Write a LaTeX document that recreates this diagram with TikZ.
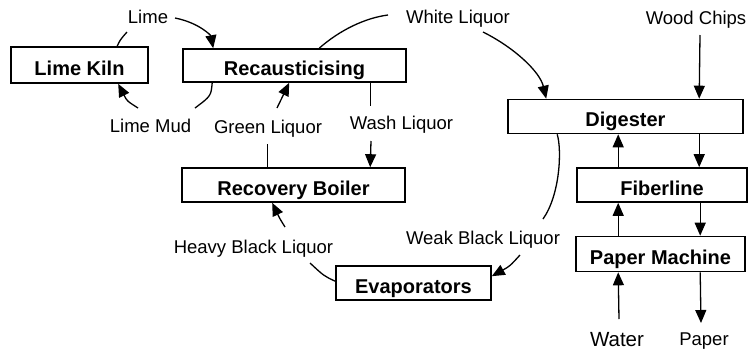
\documentclass[tikz,border=0pt]{standalone}
\usepackage{fontspec}
\setmainfont{Liberation Sans}
\usetikzlibrary{arrows.meta,calc}
\begin{document}
\begin{tikzpicture}[x=1pt,y=-1pt,
  box/.style={draw, line width=1.6pt, rectangle, inner sep=0pt,
    font=\fontsize{20}{22}\selectfont\bfseries, text height=20pt, text depth=0pt},
  lbl/.style={font=\fontsize{18.5}{20}\selectfont, inner sep=0pt, anchor=base},
  conn/.style={line width=1.3pt},
  arr/.style={conn, -{Triangle[length=13pt,width=11pt]}}]
\useasboundingbox (0,0) rectangle (748,354);

% boxes
\node[box, minimum width=137pt, minimum height=36pt] (kiln) at (79.5,65) {Lime Kiln};
\node[box, minimum width=223pt, minimum height=33pt] (recaust) at (294.5,65.5) {Recausticising};
\node[box, minimum width=223pt, minimum height=34pt] (boiler) at (293.5,185) {Recovery Boiler};
\node[box, minimum width=155pt, minimum height=34pt] (evap) at (413.5,283) {Evaporators};
\node[box, minimum width=235pt, minimum height=34pt] (digester) at (625.5,116.5) {Digester};
\node[box, minimum width=170pt, minimum height=34pt] (fiber) at (662,185) {Fiberline};
\node[box, minimum width=169pt, minimum height=35pt] (pm) at (660.5,254) {Paper Machine};

% labels
\node[lbl] (lime) at (148,23) {Lime};
\node[lbl] (white) at (458,23) {White Liquor};
\node[lbl] (wood) at (696,24) {Wood Chips};
\node[lbl] (limemud) at (150.5,132) {Lime Mud};
\node[lbl] (green) at (268,133) {Green Liquor};
\node[lbl] (wash) at (401.5,129) {Wash Liquor};
\node[lbl] (heavy) at (253.5,253) {Heavy Black Liquor};
\node[lbl] (weak) at (483,244) {Weak Black Liquor};
\node[lbl, font=\fontsize{20.5}{22}\selectfont] (water) at (617,346) {Water};
\node[lbl] (paper) at (704,345) {Paper};

% free ends
\coordinate (lime1) at (127,32);
\coordinate (lime2) at (175,18);
\coordinate (mud1) at (195,108);
\coordinate (mud2) at (138,108);
\coordinate (green1) at (277,108);
\coordinate (wash1) at (371,141);
\coordinate (wl1) at (388,15);
\coordinate (wl2) at (483,32);
\coordinate (wood1) at (700,35);
\coordinate (water1) at (619,319);
\coordinate (paper1) at (701,323);
\coordinate (weak1) at (543,219);
\coordinate (weak2) at (520,255);
\coordinate (heavy1) at (310,263);
\coordinate (heavy2) at (285,227);

% Lime
\draw[conn] ($(kiln.north west)+(107,0)$) .. controls (120,40) .. (lime1);
\draw[arr] (lime2) .. controls (200,23) and (211,36) .. ($(recaust.north west)+(31,0)$);
% Lime Mud
\draw[conn] ($(recaust.south west)+(30,0)$) .. controls (211,96) .. (mud1);
\draw[arr] (mud2) .. controls (127,101) .. ($(kiln.south west)+(108,0)$);
% Green Liquor
\draw[conn] ($(boiler.north west)+(86,0)$) -- ++(0,-23);
\draw[arr] (green1) -- ($(recaust.south west)+(107,0)$);
% Wash Liquor
\draw[conn] ($(recaust.south west)+(188,0)$) -- ++(0,23);
\draw[arr] (wash1) -- ($(boiler.north west)+(189,0)$);
% White Liquor
\draw[conn] ($(recaust.north west)+(137,0)$) .. controls (340,30) and (365,18) .. (wl1);
\draw[arr] (wl2) .. controls (515,48) and (540,72) .. ($(digester.north west)+(39,0)$);
% Wood Chips
\draw[arr] (wood1) -- ($(digester.north west)+(192,0)$);
% Digester / Fiberline / Paper Machine
\draw[arr] ($(fiber.north west)+(42,0)$) -- ($(digester.south west)+(111,0)$);
\draw[arr] ($(digester.south west)+(192,0)$) -- ($(fiber.north west)+(123,0)$);
\draw[arr] ($(pm.north west)+(43,0)$) -- ($(fiber.south west)+(42,0)$);
\draw[arr] ($(fiber.south west)+(124,0)$) -- ($(pm.north west)+(125,0)$);
\draw[arr] (water1) -- ($(pm.south west)+(43,0)$);
\draw[arr] ($(pm.south west)+(125,0)$) -- (paper1);
% Weak Black Liquor
\draw[conn] ($(digester.south west)+(50,0)$) .. controls (562,150) and (560,195) .. (weak1);
\draw[arr] (weak2) .. controls (510,266) .. ($(evap.north east)+(0,11)$);
% Heavy Black Liquor
\draw[conn] ($(evap.north west)+(0,16)$) .. controls (324,276) .. (heavy1);
\draw[arr] (heavy2) .. controls (280,219) .. ($(boiler.south west)+(91,0)$);
\end{tikzpicture}
\end{document}
